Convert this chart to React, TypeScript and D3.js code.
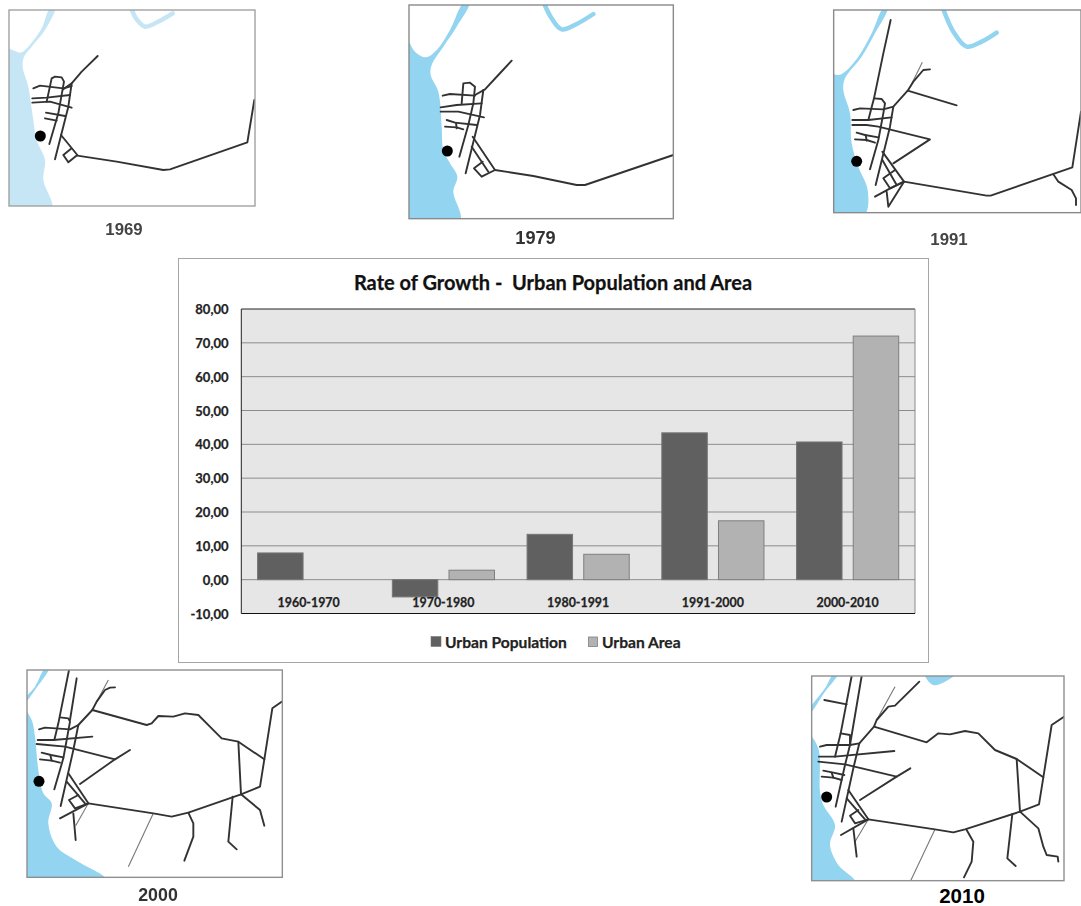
import React from "react";
import * as d3 from "d3";

type Pt = [number, number];

// ---------- chart data ----------
const periods = ["1960-1970", "1970-1980", "1980-1991", "1991-2000", "2000-2010"];
const seriesNames = ["Urban Population", "Urban Area"];
const urbanPopulation: (number | null)[] = [7.9, -5.1, 13.4, 43.4, 40.7];
const urbanArea: (number | null)[] = [null, 2.8, 7.5, 17.4, 72.0];
const yTicks = [-10, 0, 10, 20, 30, 40, 50, 60, 70, 80];
const chartTitle = "Rate of Growth -  Urban Population and Area";

// ---------- map data (each map in its own sketch coordinates) ----------
const water1969: Pt[][] = [
  [[10,120],[27,145],[45,153],[62,158],[85,140],[125,85],[150,25],[165,25],[135,90],[95,140],[72,170],[68,200],[85,260],[97,340],[110,420],[135,480],[130,540],[155,625],[10,625]],
];
const stream1969: Pt[][] = [[[395,28],[410,58],[435,80],[480,62],[518,40]]];
const roads1969: Pt[][] = [
  [[293,168],[245,215],[215,250],[190,268]],
  [[215,250],[205,320],[165,478]],
  [[140,305],[155,235],[165,230],[185,232],[192,245],[175,340],[148,432]],
  [[100,265],[120,257],[190,265],[215,258]],
  [[97,295],[140,293],[210,285]],
  [[97,308],[150,305],[215,323]],
  [[138,338],[195,348]],
  [[135,355],[170,362]],
  [[183,405],[232,465],[205,487],[190,465],[215,445]],
  [[232,467],[350,485],[490,510],[510,508],[742,427],[763,300]],
];

const water1979: Pt[][] = [
  [[10,100],[27,125],[45,155],[78,172],[110,150],[150,90],[190,10],[208,10],[170,80],[130,140],[95,195],[92,225],[115,275],[125,380],[130,450],[150,490],[172,530],[160,575],[180,662],[10,662]],
];
const stream1979: Pt[][] = [[[433,12],[455,55],[485,88],[530,72],[580,42]]];
const roads1979: Pt[][] = [
  [[335,182],[295,225],[255,268],[225,285]],
  [[250,270],[240,345],[197,520]],
  [[185,310],[190,250],[210,248],[225,260],[220,310],[205,375],[178,470]],
  [[128,287],[150,282],[225,287]],
  [[122,322],[170,315],[245,310]],
  [[122,335],[175,335],[252,352]],
  [[140,360],[165,368],[230,375]],
  [[135,380],[170,382],[190,388]],
  [[168,368],[170,385]],
  [[218,410],[285,510],[245,530],[222,505],[248,485]],
  [[215,440],[265,515]],
  [[285,510],[400,528],[530,555],[555,555],[820,465]],
];

const water1991: Pt[][] = [
  [[10,222],[40,225],[60,215],[100,170],[140,100],[175,25],[188,25],[150,100],[110,170],[60,235],[55,270],[75,340],[80,430],[100,500],[128,570],[118,645],[10,645]],
];
const stream1991: Pt[][] = [[[355,28],[385,95],[425,140],[470,125],[515,98]]];
const roads1991: Pt[][] = [
  [[197,60],[175,160],[147,295],[130,360]],
  [[147,295],[170,297],[180,310],[175,340],[160,420],[135,508]],
  [[205,320],[195,380],[152,555]],
  [[85,330],[105,325],[175,328],[205,320],[248,272],[265,245],[295,210],[315,208]],
  [[248,272],[395,316]],
  [[82,360],[130,360],[200,352]],
  [[82,375],[125,375],[160,380],[315,418],[205,490]],
  [[95,398],[120,405],[160,412]],
  [[90,418],[125,420],[150,428]],
  [[122,405],[125,422]],
  [[172,455],[237,545],[195,565],[175,535],[210,510]],
  [[172,480],[215,555]],
  [[237,545],[485,587],[497,587],[742,502],[768,335]],
  [[685,523],[700,545],[740,570],[753,595],[753,615]],
  [[150,590],[190,568],[237,545],[190,620],[185,575]],
];
const faint1991: Pt[][] = [[[255,262],[292,187]]];

const water2000: Pt[][] = [
  [[28,118],[60,80],[90,25],[102,25],[60,90],[28,130]],
  [[28,150],[50,180],[60,230],[70,330],[85,400],[110,430],[100,490],[125,560],[190,605],[270,655],[28,660]],
];
const roads2000: Pt[][] = [
  [[162,30],[130,190],[118,240]],
  [[135,172],[160,175],[165,185],[155,240],[145,295],[118,388]],
  [[185,55],[165,180]],
  [[190,195],[175,270],[137,438]],
  [[72,208],[90,203],[165,208],[190,195],[232,150],[245,125],[270,90],[285,83],[300,82]],
  [[232,150],[395,195],[410,190],[430,168],[475,170],[510,160],[550,165],[590,205],[620,235],[670,245],[748,298],[735,380],[678,403],[520,458],[470,470],[415,460],[220,430]],
  [[670,245],[678,403]],
  [[748,298],[772,145],[800,125]],
  [[68,240],[115,240],[232,230]],
  [[65,252],[150,260],[300,298],[345,270]],
  [[300,298],[195,372]],
  [[80,278],[108,285],[145,292]],
  [[75,298],[110,302],[135,308]],
  [[106,285],[110,302]],
  [[160,340],[220,430],[180,445],[162,420],[190,405]],
  [[155,365],[210,430]],
  [[220,430],[135,475]],
  [[175,460],[182,540]],
  [[520,458],[535,490],[535,530],[508,602]],
  [[653,410],[640,545],[665,568]],
  [[678,403],[735,450],[748,497]],
];
const faint2000: Pt[][] = [[[240,135],[280,60]], [[415,460],[340,620]], [[220,430],[182,497]]];

const water2010: Pt[][] = [
  [[12,135],[60,70],[85,28],[98,28],[60,80],[12,150]],
  [[360,28],[450,28],[420,50],[385,60]],
  [[12,210],[40,250],[45,380],[55,420],[90,480],[75,540],[100,600],[150,650],[12,655]],
];
const roads2010: Pt[][] = [
  [[140,33],[107,205],[90,275]],
  [[107,205],[135,210],[135,240],[120,300],[92,425]],
  [[170,33],[135,240]],
  [[163,235],[145,310],[110,470]],
  [[58,105],[125,118]],
  [[45,245],[65,240],[135,240],[163,235],[207,185],[215,165],[250,125],[270,122],[343,50]],
  [[207,185],[365,232],[400,205],[435,208],[480,198],[520,205],[570,255],[635,282],[715,337],[702,418],[645,440],[480,493],[445,502],[390,493],[190,463]],
  [[635,282],[645,440]],
  [[715,337],[740,180],[777,155]],
  [[42,275],[90,275],[268,258]],
  [[40,290],[120,298],[275,335],[316,310]],
  [[275,335],[165,405]],
  [[55,317],[85,323],[118,330]],
  [[50,335],[85,338],[110,345]],
  [[80,323],[85,338]],
  [[130,375],[190,463],[150,475],[135,452],[160,435]],
  [[125,400],[180,463]],
  [[190,463],[108,510]],
  [[145,490],[155,575]],
  [[485,495],[505,530],[500,590],[477,637]],
  [[622,447],[607,580],[632,603]],
  [[645,440],[700,490],[715,545],[725,570],[758,575],[760,590]],
];
const faint2010: Pt[][] = [[[215,165],[270,65]], [[390,493],[317,647]], [[190,463],[150,530]]];

const mapYears = ["1969", "1979", "1991", "2000", "2010"];
const mapWater = [water1969, water1979, water1991, water2000, water2010];
const mapStreams: Pt[][][] = [stream1969, stream1979, stream1991, [], []];
const mapRoads = [roads1969, roads1979, roads1991, roads2000, roads2010];
const mapFaint: Pt[][][] = [[], [], faint1991, faint2000, faint2010];
const mapDots: Pt[] = [[121,408],[142,453],[95,484],[72,364],[65,396]];
const mapFrames: [number, number, number, number][] = [
  [27,30,765,618],[27,15,820,656],[26,30,768,638],[36,30,802,652],[20,33,777,647],
];
const mapOrigins: Pt[] = [[0,0],[400,0],[825,0],[15,660],[805,665]];
const mapWaterColors = ["#c6e6f5", "#93d5f0", "#93d5f0", "#93d5f0", "#93d5f0"];
const mapFrameColors = ["#a2a2a2", "#8a8a8a", "#8a8a8a", "#8f8f8f", "#8f8f8f"];
const mapLabelPos: Pt[] = [[124,229],[535.5,238],[949,239],[158,895],[962,895]];
const mapLabelSizes = [16.8, 18.2, 16.8, 17.8, 20.5];
const mapLabelColors = ["#444", "#333", "#444", "#333", "#000"];
const mapLabelBlur = [true, true, true, true, false];

const chartFont = "Lato, 'Open Sans', sans-serif";
const mapFont = "'Liberation Sans', Arial, sans-serif";

function MapPanel({ i }: { i: number }) {
  const [ox, oy] = mapOrigins[i];
  const sx = d3.scaleLinear().domain([0, 3]).range([ox, ox + 1]);
  const sy = d3.scaleLinear().domain([0, 3]).range([oy, oy + 1]);
  const line = d3.line<Pt>().x((d) => sx(d[0])).y((d) => sy(d[1]));
  const smooth = d3.line<Pt>().x((d) => sx(d[0])).y((d) => sy(d[1])).curve(d3.curveCatmullRom.alpha(0.5));
  const smoothClosed = d3.line<Pt>().x((d) => sx(d[0])).y((d) => sy(d[1])).curve(d3.curveCatmullRomClosed.alpha(0.5));
  const [x0, y0, x1, y1] = mapFrames[i];
  const clipId = `clip-${i}`;
  return (
    <g>
      <clipPath id={clipId}>
        <rect x={sx(x0)} y={sy(y0)} width={sx(x1) - sx(x0)} height={sy(y1) - sy(y0)} />
      </clipPath>
      <g clipPath={`url(#${clipId})`}>
        <g filter="url(#soft)">
          {mapWater[i].map((p, k) => (
            <path key={k} d={smoothClosed(p)!} fill={mapWaterColors[i]} />
          ))}
          {mapStreams[i].map((p, k) => (
            <path key={k} d={smooth(p)!} fill="none" stroke={mapWaterColors[i]} strokeWidth={4.5} strokeLinecap="round" />
          ))}
          {mapFaint[i].map((p, k) => (
            <path key={k} d={line(p)!} fill="none" stroke="#777" strokeWidth={1.1} />
          ))}
          {mapRoads[i].map((p, k) => (
            <path key={k} d={line(p)!} fill="none" stroke="#333" strokeWidth={1.9} strokeLinejoin="round" strokeLinecap="round" />
          ))}
        </g>
      </g>
      <rect x={sx(x0)} y={sy(y0)} width={sx(x1) - sx(x0)} height={sy(y1) - sy(y0)} fill="none" stroke={mapFrameColors[i]} strokeWidth={1.4} />
      <circle cx={sx(mapDots[i][0])} cy={sy(mapDots[i][1])} r={5.5} fill="#000" />
      <text x={mapLabelPos[i][0]} y={mapLabelPos[i][1]} textAnchor="middle" dominantBaseline="central"
        fontFamily={mapFont} fontWeight="bold" fontSize={mapLabelSizes[i]} fill={mapLabelColors[i]}
        filter={mapLabelBlur[i] ? "url(#softText)" : undefined}>
        {mapYears[i]}
      </text>
    </g>
  );
}

function GrowthChart() {
  const left = 241.3, right = 915, top = 309, bottom = 613.5;
  const y = d3.scaleLinear().domain([-10, 80]).range([bottom, top]);
  const x0 = d3.scaleBand<string>().domain(periods).range([left, right]);
  const x1 = d3.scaleBand<string>().domain(seriesNames).range([0, x0.bandwidth()]).paddingInner(0.1975).paddingOuter(0.2875);
  const fmt = d3.formatLocale({ decimal: ",", thousands: ".", grouping: [3], currency: ["", ""], minus: "-" }).format(".2f");
  const series = [urbanPopulation, urbanArea];
  const fills = ["#606060", "#b2b2b2"];
  const strokes = ["#777", "#7f7f7f"];
  const ink = { stroke: "#222", strokeWidth: 0.25 };
  return (
    <g fontFamily={chartFont} fontWeight="bold">
      <rect x={178.5} y={258.5} width={750} height={404} fill="#fff" stroke="#a6a6a6" strokeWidth={1} />
      <text x={553} y={282} textAnchor="middle" dominantBaseline="central" fontSize={20} fill="#111" stroke="#111" strokeWidth={0.25} style={{ whiteSpace: "pre" }}>{chartTitle}</text>
      <rect x={left} y={top} width={right - left} height={bottom - top} fill="#e6e6e6" />
      {yTicks.slice(1, -1).map((t) => (
        <line key={t} x1={left} x2={right} y1={y(t)} y2={y(t)} stroke="#8c8c8c" strokeWidth={1} />
      ))}
      {series.map((vals, s) =>
        vals.map((v, c) =>
          v == null ? null : (
            <rect key={`${s}-${c}`} x={x0(periods[c])! + x1(seriesNames[s])!} y={y(Math.max(0, v))}
              width={x1.bandwidth()} height={Math.abs(y(v) - y(0))} fill={fills[s]} stroke={strokes[s]} strokeWidth={1} />
          )
        )
      )}
      <path d={`M${left},${bottom}V${top}H${right}`} fill="none" stroke="#222" strokeWidth={1} />
      <line x1={right} x2={right} y1={top} y2={bottom} stroke="#8a8a8a" strokeWidth={1} />
      <line x1={left} x2={right} y1={bottom} y2={bottom} stroke="#111" strokeWidth={1.2} />
      {yTicks.map((t) => (
        <text key={t} x={228.5} y={y(t)} textAnchor="end" dominantBaseline="central" fontSize={13} fill="#222" {...ink}>{fmt(t)}</text>
      ))}
      {periods.map((p) => (
        <text key={p} x={x0(p)! + x0.bandwidth() / 2} y={602.5} textAnchor="middle" dominantBaseline="central" fontSize={12.4} fill="#222" {...ink}>{p}</text>
      ))}
      <rect x={431} y={636.5} width={10} height={10} fill={fills[0]} stroke={strokes[0]} strokeWidth={0.6} />
      <text x={445} y={642} dominantBaseline="central" fontSize={15.6} fill="#222" {...ink}>{seriesNames[0]}</text>
      <rect x={588.5} y={637} width={9} height={9.5} fill={fills[1]} stroke={strokes[1]} strokeWidth={0.8} />
      <text x={602} y={642} dominantBaseline="central" fontSize={15.6} fill="#222" {...ink}>{seriesNames[1]}</text>
    </g>
  );
}

export default function App() {
  return (
    <svg width={1081} height={906} viewBox="0 0 1081 906"
      style={{ position: "absolute", left: 0, top: 0, display: "block", background: "#fff" }}>
      <defs>
        <filter id="soft" x="-5%" y="-5%" width="110%" height="110%">
          <feGaussianBlur stdDeviation="0.4" />
        </filter>
        <filter id="softText" x="-10%" y="-20%" width="120%" height="140%">
          <feGaussianBlur stdDeviation="0.3" />
        </filter>
      </defs>
      {mapYears.map((_, i) => <MapPanel key={i} i={i} />)}
      <GrowthChart />
    </svg>
  );
}
